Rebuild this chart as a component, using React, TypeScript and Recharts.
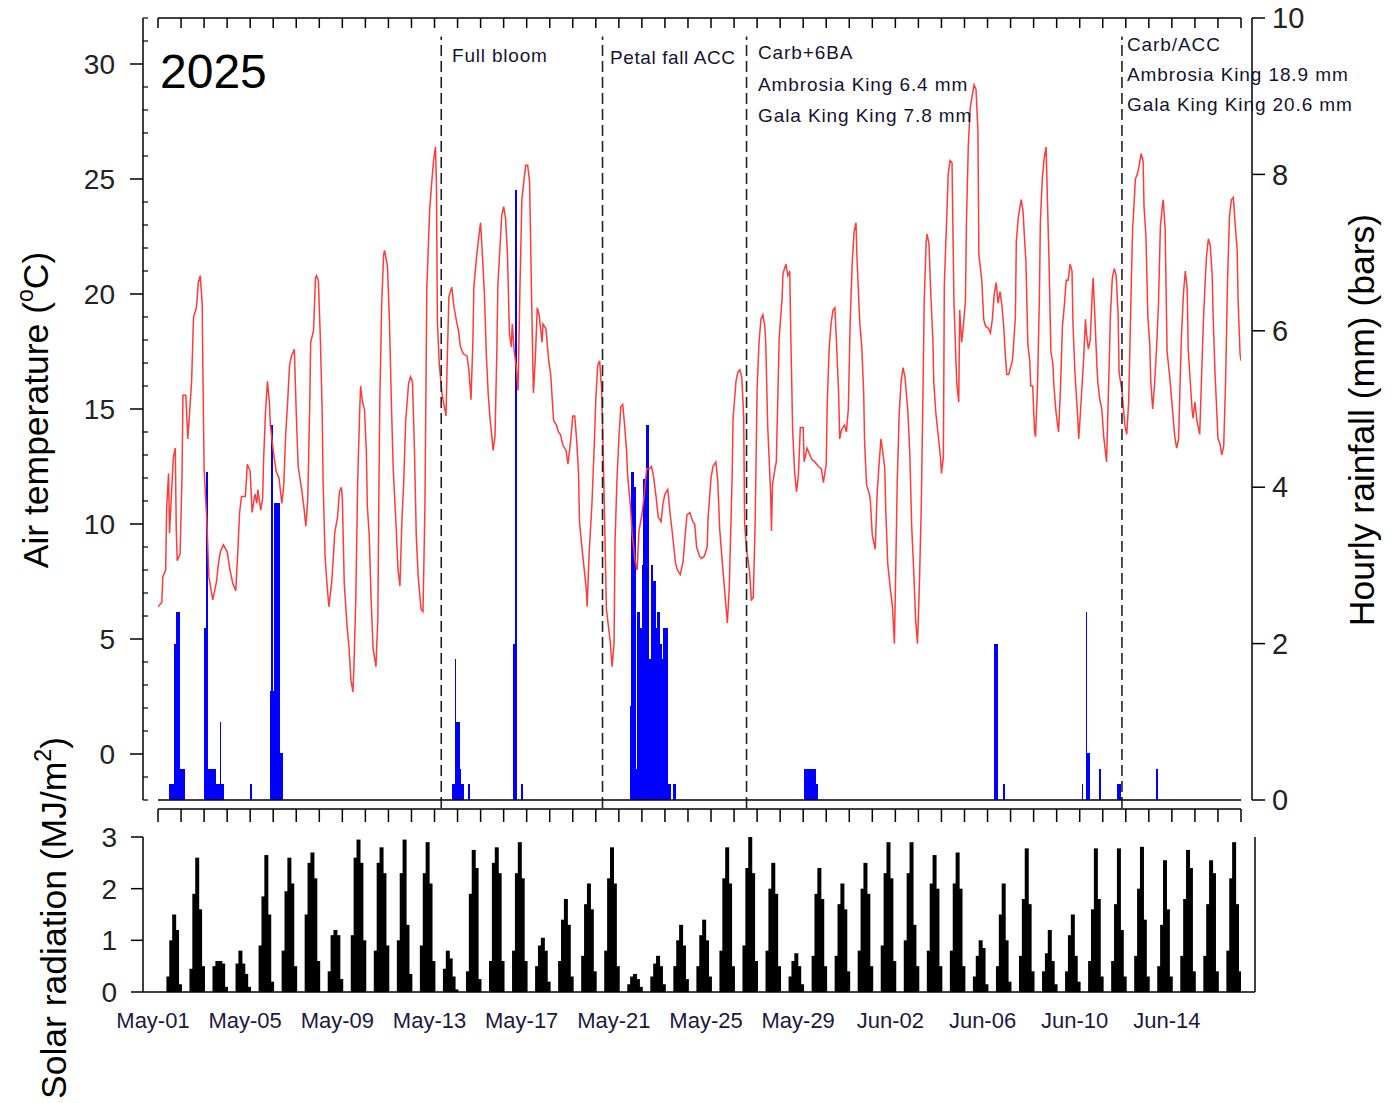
import React from 'react'
import { Bar, ComposedChart, Line, ReferenceLine, XAxis, YAxis } from 'recharts'

const FONT = '"Liberation Sans", Arial, sans-serif'
const HOURS = 47 * 24 // May-01 00:00 .. Jun-17 00:00

// hourly air temperature readings: [hour since May-01 00:00, degC]
const tempReadings: [number, number][] = [
  [0,6.4],[4,6.6],[5,7.7],[8,8.0],[9,10.7],[11,12.2],[12,9.6],[14,11.3],[16,12.9],[18,13.3],[19,9.8],[20,8.4],[23,8.7],[25,12.1],[26,15.6],[29,15.6],[31,13.7],[33,14.9],[35,16.2],[37,19.0],[40,19.4],[42,20.5],[44,20.8],[46,19.6],[47,15.8],[48,12.4],[51,10.0],[53,7.7],[57,6.7],[61,7.5],[63,8.3],[65,8.8],[68,9.1],[72,8.8],[75,8.0],[78,7.4],[81,7.1],[83,8.7],[85,10.5],[87,11.2],[91,11.2],[93,12.6],[96,12.3],[98,10.5],[101,11.3],[103,10.9],[104,11.5],[107,10.6],[109,11.1],[110,12.8],[112,14.9],[114,16.2],[116,15.3],[117,14.3],[120,13.2],[123,12.3],[126,12.0],[129,10.9],[131,11.7],[133,13.9],[135,15.3],[137,16.9],[139,17.3],[142,17.6],[144,14.8],[146,12.5],[150,11.4],[152,10.7],[154,9.9],[156,11.1],[158,15.1],[159,17.9],[162,18.4],[164,20.7],[165,20.8],[167,20.6],[169,18.2],[171,14.9],[172,11.8],[174,8.6],[176,7.4],[178,6.4],[181,7.5],[183,8.8],[184,9.6],[187,10.3],[189,11.4],[191,11.6],[192,11.1],[194,7.4],[197,5.5],[199,4.6],[201,3.2],[203,2.7],[204,3.7],[206,6.7],[208,11.9],[210,14.8],[211,16.0],[213,15.3],[215,15.0],[217,13.2],[218,10.8],[220,9.5],[222,6.7],[224,4.6],[227,3.8],[229,5.9],[230,11.1],[231,15.3],[233,19.6],[235,21.7],[236,21.9],[239,21.2],[241,18.9],[243,15.4],[245,12.4],[248,9.9],[250,8.0],[252,7.3],[254,10.1],[256,11.9],[258,14.5],[261,16.1],[263,16.4],[265,16.2],[267,13.4],[269,9.5],[271,7.7],[274,6.3],[276,6.2],[278,10.7],[280,20.3],[283,23.7],[285,24.8],[287,25.8],[289,26.4],[290,24.8],[291,18.8],[293,16.9],[296,15.6],[300,14.7],
  [301,16.7],[303,19.9],[306,20.3],[308,19.5],[311,18.8],[313,18.4],[315,17.7],[318,17.4],[322,17.3],[324,16.6],[326,15.4],[328,18.0],[329,20.3],[332,21.7],[335,22.8],[336,23.1],[338,21.6],[340,20.0],[342,17.3],[344,15.6],[346,14.5],[348,13.7],[349,13.2],[351,13.8],[353,17.7],[354,20.4],[356,21.9],[358,23.4],[360,23.8],[362,23.3],[364,21.7],[366,18.3],[368,17.7],[369,18.7],[371,17.5],[373,16.9],[375,15.8],[377,20.3],[379,24.1],[381,24.9],[383,25.6],[385,25.6],[387,24.9],[389,20.1],[391,15.7],[393,17.2],[395,19.4],[397,19.1],[400,17.9],[401,18.7],[404,18.5],[407,17.1],[409,16.5],[412,14.5],[415,14.3],[417,14.0],[419,13.9],[422,13.4],[425,13.2],[427,12.6],[430,13.7],[432,14.7],[434,14.7],[436,13.7],[438,12.2],[439,10.1],[441,9.2],[443,8.4],[446,7.2],[447,6.4],[449,8.7],[452,10.9],[454,13.0],[456,15.4],[458,16.9],[460,17.1],[462,15.9],[464,12.5],[466,8.5],[467,6.3],[469,5.6],[471,4.9],[473,3.8],[475,4.8],[476,9.2],[478,11.9],[480,13.7],[482,15.1],[484,15.2],[486,14.3],[488,13.2],[489,12.2],[492,10.8],[494,9.5],[497,8.4],[499,8.0],[501,9.7],[504,10.4],[506,11.1],[509,12.4],[512,12.4],[514,12.5],[516,12.1],[519,11.1],[521,10.3],[524,10.1],[526,10.9],[528,11.3],[531,11.5],[533,10.6],[536,9.5],[539,8.3],[541,8.0],[544,7.8],[547,8.4],[549,9.5],[551,10.4],[554,10.5],[557,10.1],[559,10.0],[561,9.0],[564,8.6],[566,8.5],[569,8.6],[572,9.0],[573,10.3],[576,12.0],[578,12.5],[581,12.7],[583,11.9],[585,9.8],[588,8.2],[591,6.7],[593,5.7],[595,7.2],[598,12.1],[599,14.6],[602,16.2],[604,16.6],[606,16.7],[608,16.4],[610,14.7],[611,10.0],[613,8.9],[616,8.0],[618,6.7],[620,6.8],[622,10.1],
  [624,15.9],[626,17.9],[628,18.9],[630,19.1],[632,18.6],[633,17.9],[635,14.3],[638,11.4],[639,9.7],[640,11.7],[643,12.5],[644,12.7],[647,18.1],[650,19.8],[651,20.9],[654,21.3],[656,20.8],[658,21.0],[659,18.4],[661,14.1],[663,12.3],[665,11.4],[667,12.1],[669,14.2],[672,14.2],[673,12.7],[676,13.3],[678,13.1],[681,12.8],[684,12.7],[688,12.5],[691,12.4],[693,11.8],[696,12.6],[697,15.2],[699,17.6],[701,18.7],[703,19.3],[705,19.4],[707,17.6],[709,15.6],[710,13.7],[712,14.1],[715,14.3],[717,14.0],[719,15.0],[721,18.9],[723,21.3],[725,22.7],[727,23.1],[728,21.6],[731,18.7],[733,17.7],[735,15.7],[736,13.5],[738,11.7],[741,11.3],[742,11.0],[744,9.5],[747,8.9],[749,11.3],[751,12.6],[753,13.7],[755,13.1],[757,12.4],[758,10.6],[760,8.3],[763,7.1],[765,6.4],[767,4.8],[768,7.1],[770,11.9],[772,14.8],[774,16.2],[776,16.8],[778,16.4],[781,14.9],[783,13.1],[785,9.9],[787,8.1],[789,5.9],[791,4.8],[793,7.3],[795,10.8],[797,16.4],[798,19.6],[800,22.2],[801,22.6],[803,22.2],[805,19.9],[807,18.1],[808,16.2],[810,14.9],[813,13.7],[815,12.9],[816,12.2],[818,12.9],[819,20.4],[822,23.9],[823,25.2],[825,25.8],[827,25.7],[829,19.7],[831,17.2],[832,16.1],[834,15.3],[835,19.3],[837,17.9],[839,18.7],[841,19.7],[842,23.0],[844,26.5],[846,28.1],[848,28.6],[850,29.1],[852,28.9],[854,27.1],[855,21.7],[858,20.6],[860,18.9],[862,18.6],[865,18.5],[867,18.3],[869,18.9],[871,20.0],[873,20.5],[875,19.6],[877,20.1],[879,19.5],[881,18.5],[882,17.7],[884,16.5],[886,16.5],[888,16.8],[890,17.1],[893,19.0],[894,22.3],[896,23.3],[899,24.1],[901,23.6],[902,22.8],[904,21.4],[906,17.8],[908,17.1],[909,16.0],[911,16.0],[913,14.0],[914,13.8],[916,15.9],[918,19.8],[919,23.1],[921,25.0],[923,25.9],[925,26.4],[926,24.7],[928,21.5],[930,17.5],[932,17.0],[933,16.1],[935,15.0],[937,14.3],[938,14.0],[940,15.9],[942,18.6],[944,19.5],[946,20.6],[948,20.6],[950,21.3],[952,21.0],[953,18.7],[955,16.6],[958,14.6],[959,13.7],[961,15.0],[964,17.1],[966,18.9],[967,18.3],[969,17.6],[971,18.0],[973,20.0],[974,20.7],[976,18.8],[978,16.8],[979,16.1],[981,15.4],[983,15.0],[985,13.8],[988,12.7],[989,14.3],[991,17.4],[992,19.1],[994,20.7],[996,21.1],[998,20.8],[1000,19.1],[1001,16.6],[1004,15.8],[1006,14.8],[1007,14.3],[1009,13.9],[1011,15.3],[1013,19.1],[1015,22.7],[1018,25.0],[1020,25.2],[1022,25.6],[1024,26.1],[1026,25.8],[1027,23.8],[1029,22.5],[1031,19.0],[1033,17.8],[1034,16.2],[1036,15.0],[1038,16.1],[1040,17.6],[1042,19.5],[1044,22.9],[1046,23.8],[1047,24.1],[1049,22.8],[1051,17.5],[1052,17.1],[1054,16.3],[1056,15.3],[1058,14.3],[1059,13.8],[1061,13.3],[1063,13.7],[1065,16.8],[1066,18.2],[1068,20.0],[1070,21.0],[1072,20.2],[1073,17.6],[1075,16.3],[1077,15.0],[1078,14.6],[1080,15.3],[1082,14.5],[1084,14.1],[1085,13.9],[1087,16.5],[1089,19.0],[1091,20.8],[1092,21.6],[1094,22.4],[1096,22.1],[1098,20.8],[1099,19.0],[1101,16.5],[1103,14.7],[1104,13.7],[1106,13.5],[1108,13.0],[1110,13.4],[1112,16.3],[1114,20.6],[1116,23.4],[1118,24.1],[1120,24.2],[1122,23.0],[1124,21.9],[1125,19.7],[1127,17.4],[1128,17.1],
]

// hourly rainfall (mm), only the wet hours: [hour, mm]
const rainReadings: [number, number][] = [
  [12,0.2],[13,0.2],[14,0.2],[15,0.2],[16,0.2],[17,2.0],[18,2.0],[19,2.0],[20,2.4],[21,2.4],[22,2.4],[23,0.4],[24,0.4],[25,0.4],[26,0.4],[27,0.4],
  [49,2.2],[50,2.2],[51,4.2],[52,0.4],[53,0.4],[54,0.4],[55,0.4],[56,0.4],[57,0.4],[58,0.4],[59,0.4],[60,0.4],[61,0.2],[62,0.2],[63,0.2],[64,0.2],[65,1.0],[66,0.2],[67,0.2],[68,0.2],
  [97,0.2],
  [118,1.4],[119,4.8],[120,1.4],[121,1.4],[122,3.8],[123,3.8],[124,3.8],[125,3.8],[126,3.8],[127,0.6],[128,0.6],[129,0.6],
  [307,0.2],[308,0.2],[309,0.2],[310,1.8],[311,1.0],[312,1.0],[313,1.0],[314,1.0],[315,0.4],[316,0.2],[317,0.2],[318,0.2],[324,0.2],
  [371,2.0],[372,2.0],[373,7.8],[379,0.2],
  [492,1.2],[493,1.2],[494,4.2],[495,4.2],[496,4.0],[497,4.0],[498,0.4],[499,0.4],[500,2.4],[501,2.4],[502,2.2],[503,0.8],[504,2.2],[505,3.0],[506,4.1],[507,4.1],[508,4.1],[509,4.8],[510,4.8],[511,4.8],[512,1.8],[513,1.8],[514,3.0],[515,3.0],[516,2.8],[517,2.8],[518,2.8],[519,2.2],[520,2.2],[521,2.4],[522,2.4],[523,2.0],[524,2.0],[525,1.8],[526,1.8],[527,2.2],[528,2.2],[529,2.2],[530,2.2],[531,0.2],[532,0.2],[533,0.2],[537,0.2],[538,0.2],[539,0.2],
  [674,0.4],[675,0.4],[676,0.4],[677,0.4],[678,0.4],[679,0.4],[680,0.4],[681,0.4],[682,0.4],[683,0.4],[684,0.4],[685,0.4],[686,0.2],[687,0.2],
  [872,2.0],[873,2.0],[874,2.0],[881,0.2],
  [963,0.2],[967,2.4],[968,0.6],[969,0.6],[970,0.6],[981,0.4],[1000,0.2],[1001,0.2],[1002,0.2],[1040,0.4],[1041,0.4],
]

// solar radiation (MJ/m2) per day, one bar for each of these hours of the day
const solarHours = [11, 14, 17, 20, 23]
const solarByDay: number[][] = [
  [0.3, 1.0, 1.5, 1.2, 0.15],
  [0.45, 1.9, 2.6, 1.6, 0.5],
  [0.5, 0.6, 0.6, 0.55, 0.1],
  [0.55, 0.8, 0.55, 0.35, 0.1],
  [0.9, 1.85, 2.65, 1.5, 0.2],
  [0.8, 1.95, 2.6, 2.1, 0.5],
  [1.5, 2.5, 2.7, 2.2, 0.6],
  [0.4, 1.1, 1.2, 1.1, 0.25],
  [1.1, 2.6, 2.95, 2.5, 1.0],
  [0.8, 2.5, 2.8, 2.3, 0.9],
  [1.0, 2.3, 2.95, 1.3, 0.35],
  [0.9, 2.3, 2.9, 2.1, 0.6],
  [0.45, 0.8, 0.65, 0.3, 0.05],
  [0.4, 1.9, 2.75, 2.4, 0.25],
  [0.6, 2.5, 2.8, 2.3, 0.6],
  [0.8, 2.3, 2.9, 2.2, 0.6],
  [0.5, 0.9, 1.05, 0.8, 0.2],
  [0.6, 1.4, 1.8, 1.3, 0.3],
  [0.7, 1.7, 2.1, 1.6, 0.4],
  [0.8, 2.2, 2.8, 2.1, 0.5],
  [0.15, 0.3, 0.35, 0.25, 0.1],
  [0.3, 0.55, 0.7, 0.5, 0.15],
  [0.5, 1.0, 1.3, 0.9, 0.25],
  [0.5, 1.1, 1.4, 1.0, 0.3],
  [0.8, 2.2, 2.8, 2.1, 0.5],
  [0.9, 2.4, 3.0, 2.3, 0.6],
  [0.8, 2.0, 2.5, 1.9, 0.5],
  [0.3, 0.6, 0.75, 0.5, 0.15],
  [0.7, 1.9, 2.4, 1.8, 0.5],
  [0.7, 1.7, 2.1, 1.6, 0.4],
  [0.8, 2.0, 2.5, 1.9, 0.5],
  [0.9, 2.3, 2.9, 2.2, 0.6],
  [1.0, 2.3, 2.9, 1.3, 0.5],
  [0.8, 2.1, 2.65, 2.0, 0.5],
  [0.8, 2.1, 2.7, 2.0, 0.5],
  [0.3, 0.7, 1.0, 0.85, 0.15],
  [0.5, 1.5, 2.1, 1.0, 0.2],
  [0.7, 1.8, 2.78, 1.7, 0.4],
  [0.4, 0.75, 1.2, 0.6, 0.15],
  [0.4, 1.1, 1.5, 0.7, 0.2],
  [0.6, 1.6, 2.78, 1.8, 0.3],
  [0.6, 1.7, 2.78, 1.2, 0.3],
  [0.7, 2.0, 2.81, 1.4, 0.3],
  [0.5, 1.3, 2.55, 1.6, 0.3],
  [0.7, 1.8, 2.75, 2.4, 0.4],
  [0.7, 1.7, 2.55, 2.3, 0.4],
  [0.8, 2.2, 2.9, 1.7, 0.4],
]

const dateLabels = ['May-01', 'May-05', 'May-09', 'May-13', 'May-17', 'May-21', 'May-25', 'May-29', 'Jun-02', 'Jun-06', 'Jun-10', 'Jun-14']

// spray / phenology events: hour of the dashed line and its note
const eventHours = [295, 463, 613, 1004]
const eventNotes = [
  ['Full bloom'],
  ['Petal fall ACC'],
  ['Carb+6BA', 'Ambrosia King 6.4 mm', 'Gala King King 7.8 mm'],
  ['Carb/ACC', 'Ambrosia King 18.9 mm', 'Gala King King 20.6 mm'],
]

const tempMajor = [0, 5, 10, 15, 20, 25, 30]
const tempTicks = Array.from({ length: 35 }, (_, i) => i - 2)
const dayTicks = Array.from({ length: 48 }, (_, i) => i * 24)
const labelTicks = dateLabels.map((_, i) => i * 96)

const topData = (() => {
  const rows = new Map<number, { t: number; temp?: number; rain?: number }>()
  tempReadings.forEach(([t, v]) => rows.set(t, { ...(rows.get(t) || { t }), temp: v }))
  rainReadings.forEach(([t, v]) => rows.set(t, { ...(rows.get(t) || { t }), rain: v }))
  return [...rows.values()].sort((a, b) => a.t - b.t)
})()

const solarData = solarByDay.flatMap((vals, d) =>
  vals.map((v, i) => ({ t: d * 24 + solarHours[i], solar: v })),
)

const AXIS = { stroke: '#000', strokeWidth: 1.5 }

function TempTick(props: any) {
  const { x, y, payload } = props
  const v = payload.value as number
  if (tempMajor.includes(v)) {
    return (
      <g>
        <line x1={x - 13} y1={y} x2={x} y2={y} stroke="#000" strokeWidth={1.5} />
        <text x={x - 28} y={y + 10} textAnchor="end" fontSize={28} fill="#222" fontFamily={FONT}>
          {v}
        </text>
      </g>
    )
  }
  return <line x1={x} y1={y} x2={x + 5} y2={y} stroke="#000" strokeWidth={1.2} />
}

// tick marks drawn by hand so that they can point inwards
function DownTick(len: number) {
  return (props: any) => (
    <line x1={props.x} y1={props.y} x2={props.x} y2={props.y + len} stroke="#000" strokeWidth={1.5} />
  )
}
const TopTick = DownTick(10)
const DayTick = DownTick(13)

function InTickRight(props: any) {
  return <line x1={props.x - 12} y1={props.y} x2={props.x} y2={props.y} stroke="#000" strokeWidth={1.5} />
}

// bar centred on its time stamp, with a fixed pixel width so that neighbouring bars join up
function blockShape(w: number, crisp: boolean) {
  return (props: any) => {
    const { x, y, width, height, fill } = props
    if (!height || height <= 0) return <g />
    return (
      <rect x={x + width / 2 - w / 2} y={y} width={w} height={height} fill={fill} stroke="none"
        shapeRendering={crisp ? 'crispEdges' : 'auto'} />
    )
  }
}
const rainShape = blockShape(1.6, true)
const solarShape = blockShape(4, false)

function DateTick(props: any) {
  const { x, y, payload } = props
  return (
    <text x={x - 5} y={y + 36} textAnchor="middle" fontSize={22} fill="#1a1a40" fontFamily={FONT}>
      {dateLabels[Math.round(payload.value / 96)]}
    </text>
  )
}

export default function App() {
  return (
    <div style={{ position: 'absolute', left: 0, top: 0, width: 1399, height: 1103, background: '#fff' }}>
      <div style={{ position: 'absolute', left: 0, top: 0 }}>
        <ComposedChart width={1399} height={830} data={topData} margin={{ top: 17, right: 67, bottom: 1, left: 43 }}>
          <XAxis xAxisId="top" orientation="top" type="number" dataKey="t" domain={[0, HOURS]} allowDataOverflow
            ticks={dayTicks} interval={0} tickSize={0} tickMargin={0} tickLine={false} tick={<TopTick />}
            height={1} axisLine={AXIS} />
          <XAxis xAxisId="edge" type="number" dataKey="t" domain={[0, HOURS]} allowDataOverflow
            height={9} tick={false} tickLine={false} axisLine={AXIS} />
          <XAxis xAxisId="main" type="number" dataKey="t" domain={[0, HOURS]} allowDataOverflow
            ticks={dayTicks} interval={0} tickSize={0} tickMargin={0} tickLine={false} tick={<DayTick />}
            height={20} axisLine={AXIS} />
          <YAxis yAxisId="padL" orientation="left" width={15} axisLine={false} tickLine={false} tick={false} />
          <YAxis yAxisId="temp" orientation="left" width={100} domain={[-2, 32]} allowDataOverflow
            ticks={tempTicks} interval={0} tickSize={0} tickMargin={0} tickLine={false} tick={<TempTick />} axisLine={AXIS} />
          <YAxis yAxisId="padR" orientation="right" width={11} axisLine={false} tickLine={false} tick={false} />
          <YAxis yAxisId="rain" orientation="right" width={80} domain={[0, 10]} allowDataOverflow
            ticks={[0, 2, 4, 6, 8, 10]} interval={0} tickSize={13} tickMargin={7} axisLine={AXIS} tickLine={AXIS}
            tick={{ fontSize: 29, fill: '#222', fontFamily: FONT }} />
          <Bar xAxisId="main" yAxisId="rain" dataKey="rain" fill="#0000ff" shape={rainShape} isAnimationActive={false} />
          <Line xAxisId="main" yAxisId="temp" dataKey="temp" type="linear" stroke="#ff3b3b" strokeWidth={1.5}
            dot={false} connectNulls isAnimationActive={false} />
          {eventHours.map((h) => (
            <ReferenceLine key={h} xAxisId="main" yAxisId="temp" ifOverflow="visible"
              segment={[{ x: h, y: -2.35 }, { x: h, y: 31.2 }]} stroke="#222" strokeWidth={1.6} strokeDasharray="11 5" />
          ))}
        </ComposedChart>
      </div>
      <div style={{ position: 'absolute', left: 0, top: 805 }}>
        <ComposedChart width={1399} height={298} data={solarData} margin={{ top: 32, right: 124, bottom: 71, left: 43 }}>
          <XAxis type="number" dataKey="t" domain={[0, HOURS]} allowDataOverflow padding={{ left: 15, right: 14 }}
            ticks={labelTicks} interval={0} tickLine={false} tickSize={0} tickMargin={0} height={40}
            axisLine={AXIS} tick={<DateTick />} />
          <YAxis yAxisId="s" orientation="left" width={100} domain={[0, 3]} ticks={[0, 1, 2, 3]} interval={0}
            tickSize={12} tickMargin={14} axisLine={AXIS} tickLine={AXIS}
            tick={{ fontSize: 28, fill: '#222', fontFamily: FONT }} />
          <YAxis yAxisId="sr" orientation="right" width={20} domain={[0, 3]} ticks={[0, 1, 2, 3]} interval={0}
            tickSize={0} tickMargin={0} tickLine={false} tick={<InTickRight />} axisLine={AXIS} />
          <Bar yAxisId="s" dataKey="solar" fill="#000" shape={solarShape} isAnimationActive={false} />
        </ComposedChart>
      </div>
      <svg width={1399} height={1103} style={{ position: 'absolute', left: 0, top: 0, pointerEvents: 'none' }}
        fontFamily={FONT}>
        <text x={160} y={88} fontSize={48} fill="#000">2025</text>
        <text x={452} y={62} fontSize={19} fill="#141432" letterSpacing={0.8}>{eventNotes[0][0]}</text>
        <text x={610} y={64} fontSize={19} fill="#141432" letterSpacing={0.6}>{eventNotes[1][0]}</text>
        {eventNotes[2].map((s, i) => (
          <text key={s} x={758} y={59 + i * 31.5} fontSize={19} fill="#141432" letterSpacing={0.9}>{s}</text>
        ))}
        {eventNotes[3].map((s, i) => (
          <text key={s} x={1127} y={51 + i * 30} fontSize={19} fill="#141432" letterSpacing={0.9}>{s}</text>
        ))}
        <text transform="translate(48,410) rotate(-90)" textAnchor="middle" fontSize={35.5} fill="#000">
          Air temperature (<tspan fontSize={23} dy={-15}>o</tspan><tspan dy={15}>C)</tspan>
        </text>
        <text transform="translate(66,918) rotate(-90)" textAnchor="middle" fontSize={35.5} fill="#000">
          Solar radiation (MJ/m<tspan fontSize={23} dy={-15}>2</tspan><tspan dy={15}>)</tspan>
        </text>
        <text transform="translate(1374,420) rotate(-90)" textAnchor="middle" fontSize={35.5} fill="#000">
          Hourly rainfall (mm) (bars)
        </text>
      </svg>
    </div>
  )
}
